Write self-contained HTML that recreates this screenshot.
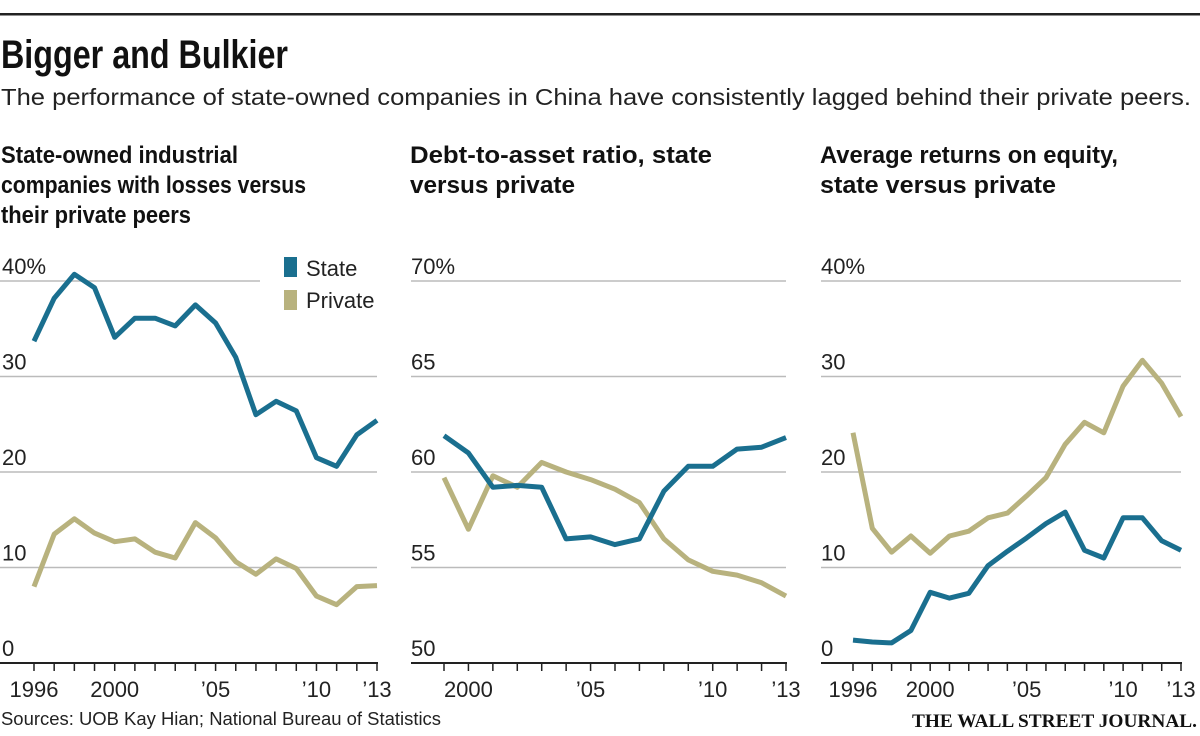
<!DOCTYPE html>
<html><head><meta charset="utf-8"><style>
html,body{margin:0;padding:0;background:#fff;}
svg{display:block;font-family:"Liberation Sans",sans-serif;}
</style></head><body>
<svg id="c" width="1200" height="736" viewBox="0 0 1200 736" xmlns="http://www.w3.org/2000/svg">
<rect x="0" y="13" width="1200" height="2.5" fill="#222"/>
<text x="1" y="68" font-size="40" font-weight="bold" fill="#111" textLength="287" lengthAdjust="spacingAndGlyphs">Bigger and Bulkier</text>
<text x="1" y="105" font-size="23" fill="#222" textLength="1190" lengthAdjust="spacingAndGlyphs">The performance of state-owned companies in China have consistently lagged behind their private peers.</text>
<g font-size="24" font-weight="bold" fill="#111">
<text x="1" y="163" textLength="237" lengthAdjust="spacingAndGlyphs">State-owned industrial</text>
<text x="1" y="193" textLength="305" lengthAdjust="spacingAndGlyphs">companies with losses versus</text>
<text x="1" y="223" textLength="190" lengthAdjust="spacingAndGlyphs">their private peers</text>
<text x="410" y="163" textLength="302" lengthAdjust="spacingAndGlyphs">Debt-to-asset ratio, state</text>
<text x="410" y="193" textLength="165" lengthAdjust="spacingAndGlyphs">versus private</text>
<text x="820" y="163" textLength="298" lengthAdjust="spacingAndGlyphs">Average returns on equity,</text>
<text x="820" y="193" textLength="236" lengthAdjust="spacingAndGlyphs">state versus private</text>
</g>
<g>
<rect x="284" y="257" width="13" height="20" fill="#1a6f8f"/>
<text x="306" y="276" font-size="22" fill="#222">State</text>
<rect x="284" y="290" width="13" height="20" fill="#b8b27e"/>
<text x="306" y="308" font-size="22" fill="#222">Private</text>
</g>
<text x="1" y="725" font-size="18" fill="#222" textLength="440" lengthAdjust="spacingAndGlyphs">Sources: UOB Kay Hian; National Bureau of Statistics</text>
<text x="1197" y="727" font-size="19" font-weight="bold" fill="#111" text-anchor="end" font-family="Liberation Serif,serif" textLength="285" lengthAdjust="spacingAndGlyphs">THE WALL STREET JOURNAL.</text>
</svg>
<script>
const yearsA = [1996,1997,1998,1999,2000,2001,2002,2003,2004,2005,2006,2007,2008,2009,2010,2011,2012,2013];
const lossState = [33.7,38.2,40.7,39.3,34.1,36.1,36.1,35.3,37.5,35.6,32.0,26.0,27.4,26.4,21.5,20.6,23.9,25.4];
const lossPrivate = [8.0,13.5,15.1,13.6,12.7,13.0,11.6,11.0,14.7,13.1,10.6,9.3,10.9,9.9,7.0,6.1,8.0,8.1];
const yearsB = [1999,2000,2001,2002,2003,2004,2005,2006,2007,2008,2009,2010,2011,2012,2013];
const debtState = [61.9,61.0,59.2,59.3,59.2,56.5,56.6,56.2,56.5,59.0,60.3,60.3,61.2,61.3,61.8];
const debtPrivate = [59.7,57.0,59.8,59.2,60.5,60.0,59.6,59.1,58.4,56.5,55.4,54.8,54.6,54.2,53.5];
const roeState = [2.4,2.2,2.1,3.4,7.4,6.8,7.3,10.2,11.7,13.1,14.6,15.8,11.8,11.0,15.2,15.2,12.8,11.8];
const roePrivate = [24.1,14.1,11.6,13.3,11.5,13.3,13.8,15.2,15.7,17.5,19.4,22.9,25.2,24.1,29.0,31.7,29.3,25.8];
const ticksA = [0,10,20,30,40];
const tickLabelsA = ['0','10','20','30','40%'];
const ticksB = [50,55,60,65,70];
const tickLabelsB = ['50','55','60','65','70%'];
const xLabelsA = {1996:'1996',2000:'2000',2005:"\u201905",2010:"\u201910",2013:"\u201913"};
const xLabelsB = {2000:'2000',2005:"\u201905",2010:"\u201910",2013:"\u201913"};

const NS='http://www.w3.org/2000/svg';
const svg=document.getElementById('c');
const STATE='#1a6f8f', PRIV='#b8b27e';
function mk(tag,attrs,parent){const e=document.createElementNS(NS,tag);for(const k in attrs)e.setAttribute(k,attrs[k]);(parent||svg).appendChild(e);return e;}

function panel(p){
  const g=mk('g',{});
  
  
  const y0=663,y1=281;
  const ys=v=>y0-(v-p.dmin)/(p.dmax-p.dmin)*(y0-y1);
  const xs=yr=>p.x0+(yr-p.years[0])/(p.years[p.years.length-1]-p.years[0])*(p.x1-p.x0);
  p.ticks.forEach((t,i)=>{
    const y=ys(t);
    if(i>0){
      const ln=mk('line',{x1:p.gx0,x2:(i===p.ticks.length-1&&p.topEnd)?p.topEnd:p.x1,y1:y,y2:y,stroke:'#bbb','stroke-width':1.5},g);
      
      
    }
    const tx=mk('text',{x:p.lx,y:y-7,'font-size':22,fill:'#222'},g);
    
    
    tx.textContent=p.tickLabels[i];
  });
  const base=mk('line',{x1:p.gx0,x2:p.x1+1,y1:y0,y2:y0,stroke:'#222','stroke-width':2},g);
  
  
  p.years.forEach(yr=>{
    const t=mk('line',{x1:xs(yr),x2:xs(yr),y1:y0,y2:y0+8,stroke:'#222','stroke-width':1.5},g);
    
    
    if(p.xLabels[yr]){
      const tx=mk('text',{x:xs(yr),y:697,'font-size':22,fill:'#222','text-anchor':'middle'},g);
      
      
      tx.textContent=p.xLabels[yr];
    }
  });
  p.series.forEach(s=>{
    const d=s.vals.map((v,i)=>(i?'L':'M')+xs(p.years[i]).toFixed(1)+' '+ys(v).toFixed(1)).join(' ');
    const path=mk('path',{d,fill:'none',stroke:s.color,'stroke-width':5,'stroke-linejoin':'round'},g);
    
    
  });
}
panel({name:'losses-panel',years:yearsA,dmin:0,dmax:40,ticks:ticksA,tickLabels:tickLabelsA,xLabels:xLabelsA,x0:34,x1:377,gx0:0,lx:2,topEnd:260,
  series:[{name:'losses-private-line',vals:lossPrivate,color:PRIV},{name:'losses-state-line',vals:lossState,color:STATE}]});
panel({name:'debt-panel',years:yearsB,dmin:50,dmax:70,ticks:ticksB,tickLabels:tickLabelsB,xLabels:xLabelsB,x0:444,x1:786,gx0:411,lx:411,
  series:[{name:'debt-private-line',vals:debtPrivate,color:PRIV},{name:'debt-state-line',vals:debtState,color:STATE}]});
panel({name:'roe-panel',years:yearsA,dmin:0,dmax:40,ticks:ticksA,tickLabels:tickLabelsA,xLabels:xLabelsA,x0:853,x1:1181,gx0:821,lx:821,
  series:[{name:'roe-private-line',vals:roePrivate,color:PRIV},{name:'roe-state-line',vals:roeState,color:STATE}]});
</script>
</body></html>
